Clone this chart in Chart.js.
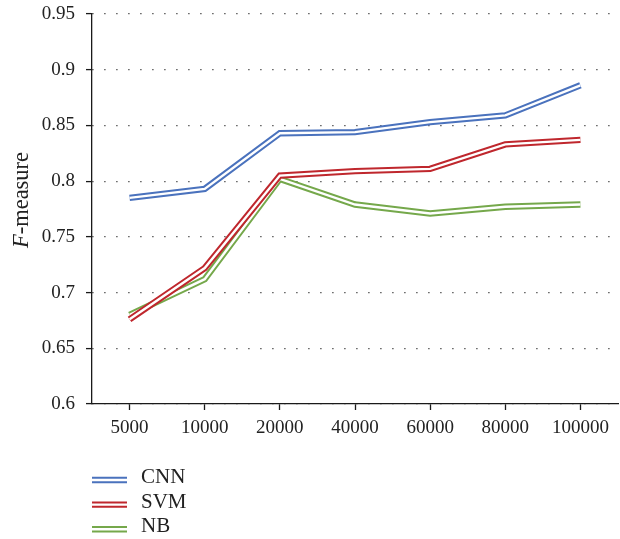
<!DOCTYPE html>
<html><head><meta charset="utf-8">
<script src="https://cdn.jsdelivr.net/npm/chart.js@4/dist/chart.umd.min.js"></script>
<style>html,body{margin:0;padding:0;background:#fff}#wrap{width:620px;height:539px;position:relative}</style>
</head><body><div id="wrap"><canvas id="c" width="620" height="539"></canvas></div>
<script>
const categories = ['5000','10000','20000','40000','60000','80000','100000'];
const cnnValues = [0.785, 0.793, 0.843, 0.844, 0.853, 0.859, 0.886];
const svmValues = [0.676, 0.722, 0.805, 0.809, 0.811, 0.833, 0.837];
const nbValues  = [0.680, 0.712, 0.802, 0.779, 0.771, 0.777, 0.779];
const yTicks = [0.6, 0.65, 0.7, 0.75, 0.8, 0.85, 0.9, 0.95];
const seriesNames = ['CNN', 'SVM', 'NB'];
const seriesColors = ['#4a72bd', '#bf272d', '#75a84b'];
const yTitleItalic = 'F';
const yTitleRest = '-measure';

const FONT = "'Liberation Serif', 'DejaVu Serif', serif";
const TEXT = '#222';
Chart.defaults.font.family = FONT;
Chart.defaults.color = TEXT;

const OUTER_W = 6.4, INNER_W = 2.4;

const doubleLine = {
  id: 'doubleLine',
  afterDatasetDraw(chart, args) {
    const pts = args.meta.data;
    const ctx = chart.ctx;
    ctx.save();
    ctx.beginPath();
    pts.forEach((p, i) => i ? ctx.lineTo(p.x, p.y) : ctx.moveTo(p.x, p.y));
    ctx.lineWidth = INNER_W;
    ctx.strokeStyle = '#fff';
    ctx.lineJoin = 'miter';
    ctx.lineCap = 'butt';
    ctx.stroke();
    ctx.restore();
  }
};

const extras = {
  id: 'extras',
  afterDraw(chart) {
    const ctx = chart.ctx;
    const ca = chart.chartArea;
    // y-axis title with italic F
    ctx.save();
    ctx.fillStyle = TEXT;
    ctx.textBaseline = 'middle';
    const fItal = 'italic 22.5px ' + FONT, fNorm = '22.5px ' + FONT;
    ctx.font = fItal; const w1 = ctx.measureText(yTitleItalic).width;
    ctx.font = fNorm; const w2 = ctx.measureText(yTitleRest).width;
    ctx.translate(22, 200);
    ctx.rotate(-Math.PI / 2);
    let x0 = -(w1 + w2) / 2;
    ctx.font = fItal; ctx.textAlign = 'left'; ctx.fillText(yTitleItalic, x0, 0);
    ctx.font = fNorm; ctx.fillText(yTitleRest, x0 + w1, 0);
    ctx.restore();

    // legend
    ctx.save();
    chart.data.datasets.forEach((ds, i) => {
      const y = 480 + i * 24.6;
      const x1 = ca.left, x2 = ca.left + 35;
      ctx.beginPath(); ctx.moveTo(x1, y); ctx.lineTo(x2, y);
      ctx.lineWidth = OUTER_W; ctx.strokeStyle = ds.borderColor; ctx.stroke();
      ctx.beginPath(); ctx.moveTo(x1, y); ctx.lineTo(x2, y);
      ctx.lineWidth = INNER_W; ctx.strokeStyle = '#fff'; ctx.stroke();
      ctx.font = '21px ' + FONT; ctx.fillStyle = TEXT;
      ctx.textAlign = 'left'; ctx.textBaseline = 'middle';
      ctx.fillText(ds.label, x2 + 14, y - 2.5);
    });
    ctx.restore();
  }
};

const valuesList = [cnnValues, svmValues, nbValues];
const datasets = seriesNames.map((n, i) => ({
  label: n,
  data: valuesList[i],
  borderColor: seriesColors[i],
  backgroundColor: seriesColors[i],
  borderWidth: OUTER_W,
  borderJoinStyle: 'miter',
  pointRadius: 0,
  pointHoverRadius: 0,
  tension: 0,
  fill: false
}));

new Chart(document.getElementById('c'), {
  type: 'line',
  data: { labels: categories, datasets },
  plugins: [doubleLine, extras],
  options: {
    responsive: false,
    animation: false,
    devicePixelRatio: 1,
    layout: { padding: { top: 14, right: 2, left: 0, bottom: 0 } },
    plugins: { legend: { display: false }, tooltip: { enabled: false } },
    scales: {
      x: {
        type: 'category',
        offset: true,
        grid: { display: true, drawOnChartArea: false, drawTicks: true, tickLength: 6, tickColor: '#1a1a1a', tickWidth: 1.3, offset: false },
        border: { display: true, color: '#1a1a1a', width: 1.3 },
        ticks: { font: { size: 19 }, color: TEXT, padding: 7, maxRotation: 0, autoSkip: false },
        afterFit(s) { s.height = 135; s.paddingLeft = 0; s.paddingRight = 0; }
      },
      y: {
        min: 0.6, max: 0.95,
        afterBuildTicks(s) { s.ticks = yTicks.map(v => ({ value: v })); },
        grid: { display: true, drawOnChartArea: true, color: '#333', lineWidth: 1.2, drawTicks: true, tickLength: 6, tickColor: '#1a1a1a', tickWidth: 1.3 },
        border: { display: true, color: '#1a1a1a', width: 1.3, dash: [1.2, 10.8] },
        ticks: { font: { size: 19 }, color: TEXT, padding: 11, callback: v => String(+(+v).toFixed(2)) },
        afterFit(s) { s.width = 92; s.paddingTop = 0; s.paddingBottom = 0; }
      }
    }
  }
});
</script></body></html>
